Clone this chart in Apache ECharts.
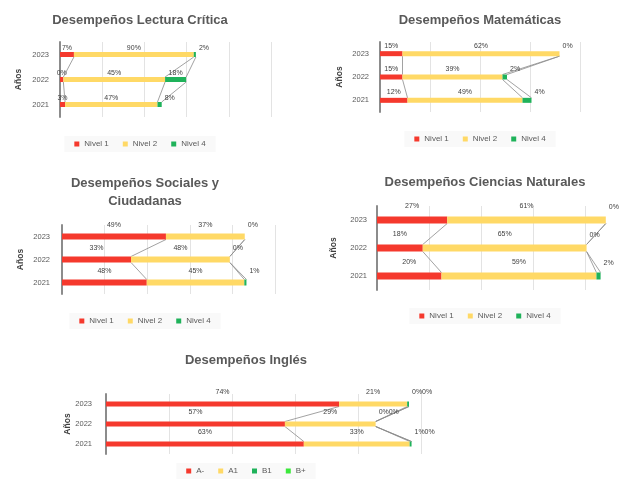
<!DOCTYPE html>
<html>
<head>
<meta charset="utf-8">
<script src="https://cdn.jsdelivr.net/npm/echarts@6/dist/echarts.min.js"></script>
<style>
html,body{margin:0;padding:0;background:#fff;width:633px;height:482px;overflow:hidden;position:relative;}
.c{position:absolute;}
</style>
</head>
<body>
<div id="c1" class="c" style="left:0px;top:0px;width:280px;height:160px"></div>
<div id="c2" class="c" style="left:330px;top:0px;width:300px;height:160px"></div>
<div id="c3" class="c" style="left:0px;top:160px;width:290px;height:180px"></div>
<div id="c4" class="c" style="left:316px;top:160px;width:338px;height:180px"></div>
<div id="c5" class="c" style="left:46px;top:340px;width:400px;height:142px"></div>
<script>
// ---------- DATA ----------
const years = ['2021', '2022', '2023'];

// Lectura Crítica
const lcNivel1 = [1.2, 0.8, 3.3];
const lcNivel2 = [21.9, 24.1, 28.4];
const lcNivel4 = [1.0, 5.0, 0.5];
const lcNivel1Lbl = ['3%', '0%', '7%'];
const lcNivel2Lbl = ['47%', '45%', '90%'];
const lcNivel4Lbl = ['8%', '18%', '2%'];

// Matemáticas
const maNivel1 = [5.5, 4.5, 4.5];
const maNivel2 = [23.0, 20.0, 31.4];
const maNivel4 = [1.8, 0.9, 0];
const maNivel1Lbl = ['12%', '15%', '15%'];
const maNivel2Lbl = ['49%', '39%', '62%'];
const maNivel4Lbl = ['4%', '2%', '0%'];

// Sociales y Ciudadanas
const soNivel1 = [19.9, 16.2, 24.4];
const soNivel2 = [22.9, 23.2, 18.5];
const soNivel4 = [0.5, 0, 0];
const soNivel1Lbl = ['48%', '33%', '49%'];
const soNivel2Lbl = ['45%', '48%', '37%'];
const soNivel4Lbl = ['1%', '0%', '0%'];

// Ciencias Naturales
const ciNivel1 = [12.4, 8.8, 13.5];
const ciNivel2 = [29.8, 31.5, 30.5];
const ciNivel4 = [0.8, 0, 0];
const ciNivel1Lbl = ['20%', '18%', '27%'];
const ciNivel2Lbl = ['59%', '65%', '61%'];
const ciNivel4Lbl = ['2%', '0%', '0%'];

// Inglés
const inAm = [31.4, 28.4, 37.0];
const inA1 = [16.8, 14.4, 10.8];
const inB1 = [0.3, 0, 0.3];
const inBp = [0, 0, 0];
const inAmLbl = ['63%', '57%', '74%'];
const inA1Lbl = ['33%', '29%', '21%'];
const inB1Lbl = ['1%', '0%', '0%'];
const inBpLbl = ['0%', '0%', '0%'];

// ---------- CHART DEFINITIONS ----------
const nivelNames = ['Nivel 1', 'Nivel 2', 'Nivel 4'];
const charts = [
  { el: 'c1', title: 'Desempeños Lectura Crítica', names: nivelNames,
    values: [lcNivel1, lcNivel2, lcNivel4], labels: [lcNivel1Lbl, lcNivel2Lbl, lcNivel4Lbl] },
  { el: 'c2', title: 'Desempeños Matemáticas', names: nivelNames,
    values: [maNivel1, maNivel2, maNivel4], labels: [maNivel1Lbl, maNivel2Lbl, maNivel4Lbl] },
  { el: 'c3', title: 'Desempeños Sociales y\nCiudadanas', names: nivelNames,
    values: [soNivel1, soNivel2, soNivel4], labels: [soNivel1Lbl, soNivel2Lbl, soNivel4Lbl] },
  { el: 'c4', title: 'Desempeños Ciencias Naturales', names: nivelNames,
    values: [ciNivel1, ciNivel2, ciNivel4], labels: [ciNivel1Lbl, ciNivel2Lbl, ciNivel4Lbl] },
  { el: 'c5', title: 'Desempeños Inglés', names: ['A-', 'A1', 'B1', 'B+'],
    values: [inAm, inA1, inB1, inBp], labels: [inAmLbl, inA1Lbl, inB1Lbl, inBpLbl] }
];

// ---------- LAYOUT / STYLE (not data) ----------
const layouts = [
  { left: 60, top: 42, width: 211, height: 75, bar: 5, dist: 0, margin: 11, gap: 37, titleTop: 11, legendTop: 136 },
  { left: 50, top: 42, width: 250, height: 70, bar: 5, dist: 2, margin: 11, gap: 36, titleTop: 11, legendTop: 131 },
  { left: 62, top: 65, width: 213, height: 69, bar: 6, dist: 5, margin: 12, gap: 37, titleTop: 14, legendTop: 153 },
  { left: 61, top: 46, width: 260, height: 84, bar: 7, dist: 7, margin: 10, gap: 39, titleTop: 13, legendTop: 148 },
  { left: 60, top: 54, width: 315, height: 60, bar: 5, dist: 6, margin: 14, gap: 34, titleTop: 11, legendTop: 123 }
];
const palette = ['#F5392D', '#FFD966', '#1FB25A', '#3BE83B'];
const FONT = "'Liberation Sans', Arial, sans-serif";
const AXIS_MAX = 50, AXIS_INT = 10;

charts.forEach((c, ci) => {
  const L = layouts[ci];
  const pxPerUnit = L.width / AXIS_MAX;
  const n = years.length;
  const series = [];
  const cum = [];
  c.values.forEach((vals, k) => {
    cum.push(vals.map((v, i) => v + (k > 0 ? cum[k - 1][i] : 0)));
    const isTail = k >= 2;
    series.push({
      type: 'bar', name: c.names[k], stack: 'total', barWidth: L.bar, z: 3,
      itemStyle: { color: palette[k] },
      label: {
        show: true, position: 'top', distance: L.dist,
        fontSize: 7, color: '#404040', fontFamily: FONT,
        formatter: p => c.labels[k][p.dataIndex]
      },
      data: vals.map((v, i) => {
        if (isTail && v * pxPerUnit < 12) {
          return { value: v, label: { position: 'right', distance: 3, offset: [k === 3 ? 10 : 0, -(L.dist + 6)] } };
        }
        return v;
      })
    });
  });
  // Excel-style series lines connecting segment ends between adjacent years
  const lineData = [];
  cum.forEach(arr => {
    for (let i = 0; i < n - 1; i++) lineData.push([arr[i], i, arr[i + 1], i + 1]);
  });
  series.push({
    type: 'custom', silent: true, z: 1, encode: { x: [0, 2], y: [1, 3] },
    renderItem: (params, api) => {
      const p1 = api.coord([api.value(0), api.value(1)]);
      const p2 = api.coord([api.value(2), api.value(3)]);
      const h = L.bar / 2;
      return { type: 'line', shape: { x1: p1[0], y1: p1[1] - h, x2: p2[0], y2: p2[1] + h },
               style: { stroke: '#8a8a8a', lineWidth: 0.8 } };
    },
    data: lineData
  });

  const el = document.getElementById(c.el);
  const chart = echarts.init(el, null, { renderer: 'canvas' });
  chart.setOption({
    animation: false,
    title: {
      text: c.title, left: 'center', top: L.titleTop, padding: 0,
      textStyle: { fontSize: 13, fontWeight: 'bold', color: '#595959', fontFamily: FONT, lineHeight: 18 }
    },
    legend: {
      data: c.names, left: 'center', top: L.legendTop, icon: 'rect',
      itemWidth: 5, itemHeight: 5, itemGap: 14, padding: [4, 10],
      backgroundColor: 'rgba(0,0,0,0.025)',
      textStyle: { fontSize: 8, color: '#595959', fontFamily: FONT }
    },
    grid: { left: L.left, top: L.top, width: L.width, height: L.height,
            containLabel: false, outerBoundsMode: 'none' },
    xAxis: {
      type: 'value', min: 0, max: AXIS_MAX, interval: AXIS_INT,
      axisLabel: { show: false }, axisLine: { show: false }, axisTick: { show: false },
      splitLine: { show: true, lineStyle: { color: '#e3e3e3', width: 1 } }
    },
    yAxis: {
      type: 'category', data: years,
      axisLine: { show: true, lineStyle: { color: '#8c8c8c', width: 2 } },
      axisTick: { show: false },
      axisLabel: { fontSize: 7.5, color: '#595959', margin: L.margin, fontFamily: FONT },
      name: 'Años', nameLocation: 'middle', nameRotate: 90, nameGap: L.gap, nameMoveOverlap: false,
      nameTextStyle: { fontSize: 8.5, fontWeight: 'bold', color: '#404040', fontFamily: FONT }
    },
    series: series
  });
});
</script>
</body>
</html>
